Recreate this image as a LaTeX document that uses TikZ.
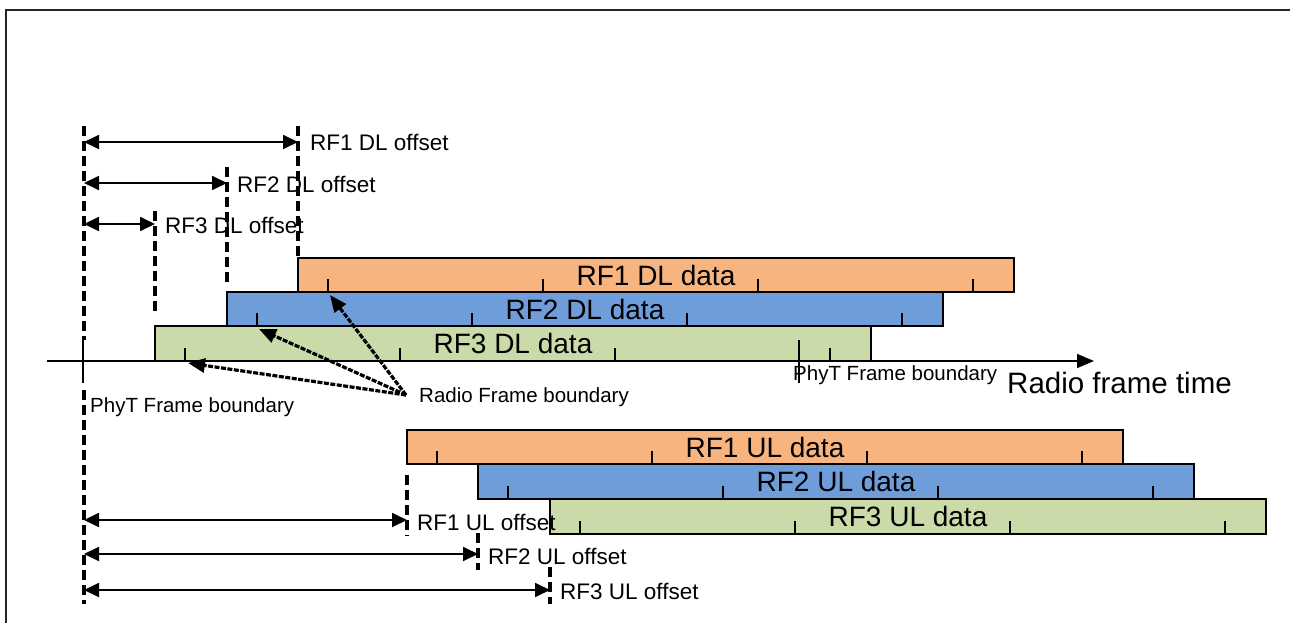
\documentclass[tikz,border=0pt]{standalone}
\usepackage{fontspec}
\setmainfont{Liberation Sans}
\usetikzlibrary{arrows.meta,calc}
\definecolor{rfor}{HTML}{F7B47F}
\definecolor{rfbl}{HTML}{6E9DDA}
\definecolor{rfgr}{HTML}{CADAA9}
\begin{document}
\begin{tikzpicture}[x=1pt,y=-1pt,
  bar/.style={draw, line width=2pt, minimum width=716pt, minimum height=34pt, inner sep=0pt, outer sep=0pt, anchor=south west, font=\fontsize{28}{30}\selectfont},
  tk/.style={line width=1.4pt},
  dimarrow/.style={line width=1.8pt, {Triangle[length=15pt,width=14pt]}-{Triangle[length=15pt,width=14pt]}},
  bnd/.style={line width=3.6pt, dash pattern=on 10pt off 5pt},
  offlbl/.style={font=\fontsize{22.5}{24}\selectfont, anchor=base west, inner sep=0pt},
  smlbl/.style={font=\fontsize{20.5}{22}\selectfont, anchor=base west, inner sep=0pt},
  rfb/.style={line width=3.2pt, dash pattern=on 5pt off 1.5pt, -{Triangle[length=17pt,width=14pt]}}
]
\useasboundingbox (0,0) rectangle (1290,623);
\draw[line width=2.2pt, black!85] (6,623) -- (6,10) -- (1290,10);

% axis
\coordinate (axs) at (47,361);
\coordinate (axe) at (1094,361);
\draw[line width=1.6pt, -{Triangle[length=17pt,width=14pt]}] (axs) -- (axe);
\node[anchor=base west, inner sep=0pt, font=\fontsize{29.5}{31}\selectfont] (rft) at (1007,393) {Radio frame time};

% DL bars
\node[bar, fill=rfor] (dl1) at (298,292) {RF1 DL data};
\node[bar, fill=rfbl] (dl2) at (227,326) {RF2 DL data};
\node[bar, fill=rfgr, minimum height=35pt] (dl3) at (155,361) {RF3 DL data};
% UL bars
\node[bar, fill=rfor] (ul1) at (407,464) {RF1 UL data};
\node[bar, fill=rfbl, minimum height=35pt] (ul2) at (478,499) {RF2 UL data};
\node[bar, fill=rfgr, minimum height=35pt] (ul3) at (550,534) {RF3 UL data};

\foreach \b in {dl1,dl2,dl3,ul1,ul2,ul3}{
  \foreach \k in {0,1,2,3}{
    \draw[tk] ([xshift=30pt+\k*215pt]\b.south west) -- ++(0,-13);
  }
}

% PhyT ticks
\coordinate (pt1a) at (83,340); \coordinate (pt1b) at (83,383);
\coordinate (pt2a) at (799,340); \coordinate (pt2b) at (799,383);
\draw[tk] (pt1a) -- (pt1b);
\draw[tk] (pt2a) -- (pt2b);
\node[smlbl] (phyl) at (90,412) {PhyT Frame boundary};
\node[smlbl] (phyr) at (793,380) {PhyT Frame boundary};

% dashed boundaries
\coordinate (b0t) at (84,126); \coordinate (b0m) at (84,340);
\coordinate (b0n) at (84,390); \coordinate (b0b) at (84,604);
\draw[bnd] (b0t) -- (b0m);
\draw[bnd] (b0n) -- (b0b);
\coordinate (d1t) at (298,126); \coordinate (d1b) at (298,258);
\coordinate (d2t) at (227,167); \coordinate (d2b) at (227,282);
\coordinate (d3t) at (155,211); \coordinate (d3b) at (155,314);
\draw[bnd] (d1t) -- (d1b);
\draw[bnd] (d2t) -- (d2b);
\draw[bnd] (d3t) -- (d3b);
\coordinate (u1t) at (407,475); \coordinate (u1b) at (407,536);
\coordinate (u2t) at (478,533); \coordinate (u2b) at (478,570);
\coordinate (u3t) at (550,567); \coordinate (u3b) at (550,604);
\draw[bnd] (u1t) -- (u1b);
\draw[bnd] (u2t) -- (u2b);
\draw[bnd] (u3t) -- (u3b);

% DL offset arrows
\coordinate (a1l) at (84,142); \coordinate (a1r) at (298,142);
\coordinate (a2l) at (84,183); \coordinate (a2r) at (227,183);
\coordinate (a3l) at (84,224); \coordinate (a3r) at (155,224);
\draw[dimarrow] (a1l) -- (a1r);
\draw[dimarrow] (a2l) -- (a2r);
\draw[dimarrow] (a3l) -- (a3r);
\node[offlbl] (o1) at (310,150) {RF1 DL offset};
\node[offlbl] (o2) at (237,192) {RF2 DL offset};
\node[offlbl] (o3) at (165,233) {RF3 DL offset};

% UL offset arrows
\coordinate (c1l) at (84,520); \coordinate (c1r) at (407,520);
\coordinate (c2l) at (84,554); \coordinate (c2r) at (478,554);
\coordinate (c3l) at (84,590); \coordinate (c3r) at (550,590);
\draw[dimarrow] (c1l) -- (c1r);
\draw[dimarrow] (c2l) -- (c2r);
\draw[dimarrow] (c3l) -- (c3r);
\node[offlbl] (q1) at (417,530) {RF1 UL offset};
\node[offlbl] (q2) at (488,564) {RF2 UL offset};
\node[offlbl] (q3) at (560,599) {RF3 UL offset};

% radio frame boundary pointers
\coordinate (src) at (406,395);
\coordinate (t1) at (330,295);
\coordinate (t2) at (259,329);
\coordinate (t3) at (188,363);
\draw[rfb] (src) -- (t1);
\draw[rfb] (src) -- (t2);
\draw[rfb] (src) -- (t3);
\node[smlbl] (rfbl) at (419,402) {Radio Frame boundary};
\end{tikzpicture}
\end{document}
